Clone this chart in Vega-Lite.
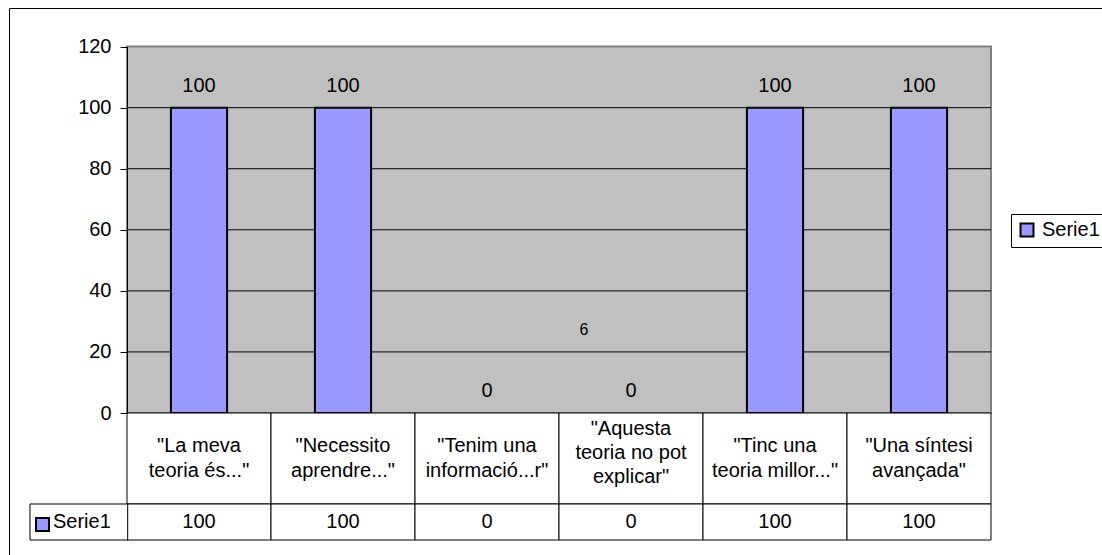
{
  "$schema": "https://vega.github.io/schema/vega-lite/v6.json",
  "width": 1093,
  "height": 547,
  "autosize": "none",
  "padding": {"left": 9, "top": 8, "right": 0, "bottom": 0},
  "background": "white",
  "config": {
    "font": "Liberation Sans",
    "view": {"stroke": "black", "strokeWidth": 1, "fill": "white"}
  },
  "datasets": {
    "bars": [
      {"cat": "\"La meva\nteoria és...\"", "value": 100, "series": "Serie1", "lines": 2},
      {"cat": "\"Necessito\naprendre...\"", "value": 100, "series": "Serie1", "lines": 2},
      {"cat": "\"Tenim una\ninformació...r\"", "value": 0, "series": "Serie1", "lines": 2},
      {"cat": "\"Aquesta\nteoria no pot\nexplicar\"", "value": 0, "series": "Serie1", "lines": 3},
      {"cat": "\"Tinc una\nteoria millor...\"", "value": 100, "series": "Serie1", "lines": 2},
      {"cat": "\"Una síntesi\navançada\"", "value": 100, "series": "Serie1", "lines": 2}
    ],
    "grid": [{"v": 20}, {"v": 40}, {"v": 60}, {"v": 80}, {"v": 100}],
    "note": [{"note": "6"}],
    "one": [{"series": "Serie1"}]
  },
  "resolve": {"scale": {"x": "independent"}},
  "layer": [
    {
      "layer": [
        {
          "data": {"name": "one"},
          "mark": {"type": "rect", "fill": "#c0c0c0", "stroke": "#808080", "strokeWidth": 2},
          "encoding": {
            "x": {"datum": 0, "type": "quantitative", "scale": {"domain": [0, 1], "range": [118, 982]}, "axis": null},
            "x2": {"datum": 1},
            "y": {
              "datum": 0, "type": "quantitative",
              "scale": {"domain": [0, 120], "range": [405, 38.6], "nice": false, "zero": false},
              "axis": {
                "title": null, "offset": -118, "values": [0, 20, 40, 60, 80, 100, 120],
                "grid": false, "domainColor": "black", "domainWidth": 1,
                "tickColor": "black", "tickSize": 7, "tickWidth": 1,
                "labelFontSize": 20, "labelColor": "black", "labelPadding": 9, "zindex": 1
              }
            },
            "y2": {"datum": 120}
          }
        },
        {
          "data": {"name": "grid"},
          "mark": {"type": "rule", "color": "#000000", "strokeWidth": 1},
          "encoding": {
            "x": {"datum": 0, "type": "quantitative", "scale": {"domain": [0, 1], "range": [118, 982]}, "axis": null},
            "x2": {"datum": 1},
            "y": {"field": "v", "type": "quantitative", "scale": {"domain": [0, 120], "range": [405, 38.6], "nice": false, "zero": false}}
          }
        }
      ]
    },
    {
      "data": {"name": "bars"},
      "encoding": {
        "x": {"field": "cat", "type": "nominal", "sort": null, "scale": {"range": [118, 982], "paddingInner": 0, "paddingOuter": 0}, "axis": null}
      },
      "layer": [
        {
          "mark": {"type": "bar", "width": {"band": 0.39}, "stroke": "black", "strokeWidth": 2},
          "encoding": {
            "y": {
              "field": "value", "type": "quantitative",
              "scale": {"domain": [0, 120], "range": [405, 38.6], "nice": false, "zero": false}
            },
            "fill": {
              "field": "series", "type": "nominal",
              "scale": {"range": ["#9999ff"]},
              "legend": {
                "orient": "none", "legendX": 1002, "legendY": 206, "title": null,
                "symbolType": "square", "symbolSize": 169, "symbolStrokeColor": "black", "symbolStrokeWidth": 2,
                "labelFontSize": 20, "labelColor": "black", "labelOffset": 5,
                "fillColor": "white", "strokeColor": "black", "padding": 6
              }
            },
            "strokeOpacity": {"condition": {"test": "datum.value > 0", "value": 1}, "value": 0}
          }
        },
        {
          "mark": {"type": "text", "fontSize": 20, "color": "black", "baseline": "alphabetic", "dy": -16},
          "encoding": {
            "y": {"field": "value", "type": "quantitative"},
            "text": {"field": "value", "type": "quantitative"}
          }
        },
        {
          "mark": {"type": "rect", "fill": "white", "stroke": "black", "strokeWidth": 1},
          "encoding": {
            "y": {"datum": 0, "type": "quantitative"},
            "y2": {"datum": -29.8}
          }
        },
        {
          "mark": {"type": "rect", "fill": "white", "stroke": "black", "strokeWidth": 1},
          "encoding": {
            "y": {"datum": -29.8, "type": "quantitative"},
            "y2": {"datum": -41.6}
          }
        },
        {
          "transform": [{"filter": "datum.lines == 2"}],
          "mark": {"type": "text", "fontSize": 20, "color": "black", "baseline": "middle", "lineBreak": "\n", "lineHeight": 25},
          "encoding": {
            "y": {"datum": -10.9, "type": "quantitative"},
            "text": {"field": "cat", "type": "nominal"}
          }
        },
        {
          "transform": [{"filter": "datum.lines == 3"}],
          "mark": {"type": "text", "fontSize": 20, "color": "black", "baseline": "middle", "lineBreak": "\n", "lineHeight": 24},
          "encoding": {
            "y": {"datum": -5.2, "type": "quantitative"},
            "text": {"field": "cat", "type": "nominal"}
          }
        },
        {
          "mark": {"type": "text", "fontSize": 20, "color": "black", "baseline": "middle"},
          "encoding": {
            "y": {"datum": -35.7, "type": "quantitative"},
            "text": {"field": "value", "type": "quantitative"}
          }
        },
        {
          "data": {"name": "note"},
          "mark": {"type": "text", "fontSize": 16, "color": "black", "baseline": "middle"},
          "encoding": {
            "x": {"datum": "\"Aquesta\nteoria no pot\nexplicar\"", "type": "nominal", "bandPosition": 0.174},
            "y": {"datum": 27.2, "type": "quantitative"},
            "text": {"field": "note", "type": "nominal"}
          }
        }
      ]
    },
    {
      "data": {"name": "one"},
      "encoding": {
        "x": {"datum": 0, "type": "quantitative", "scale": {"domain": [0, 1], "range": [21, 118.7]}, "axis": null}
      },
      "layer": [
        {
          "mark": {"type": "rect", "fill": "white", "stroke": "black", "strokeWidth": 1},
          "encoding": {
            "x": {"datum": 0, "type": "quantitative"},
            "x2": {"datum": 1},
            "y": {"datum": -29.8, "type": "quantitative"},
            "y2": {"datum": -41.6}
          }
        },
        {
          "mark": {"type": "point", "shape": "square", "size": 169, "filled": true, "fill": "#9999ff", "stroke": "black", "strokeWidth": 2, "opacity": 1},
          "encoding": {
            "x": {"datum": 0.128, "type": "quantitative"},
            "y": {"datum": -36.5, "type": "quantitative"}
          }
        },
        {
          "mark": {"type": "text", "fontSize": 20, "color": "black", "baseline": "middle", "align": "left"},
          "encoding": {
            "x": {"datum": 0.235, "type": "quantitative"},
            "y": {"datum": -35.7, "type": "quantitative"},
            "text": {"field": "series", "type": "nominal"}
          }
        }
      ]
    }
  ]
}
